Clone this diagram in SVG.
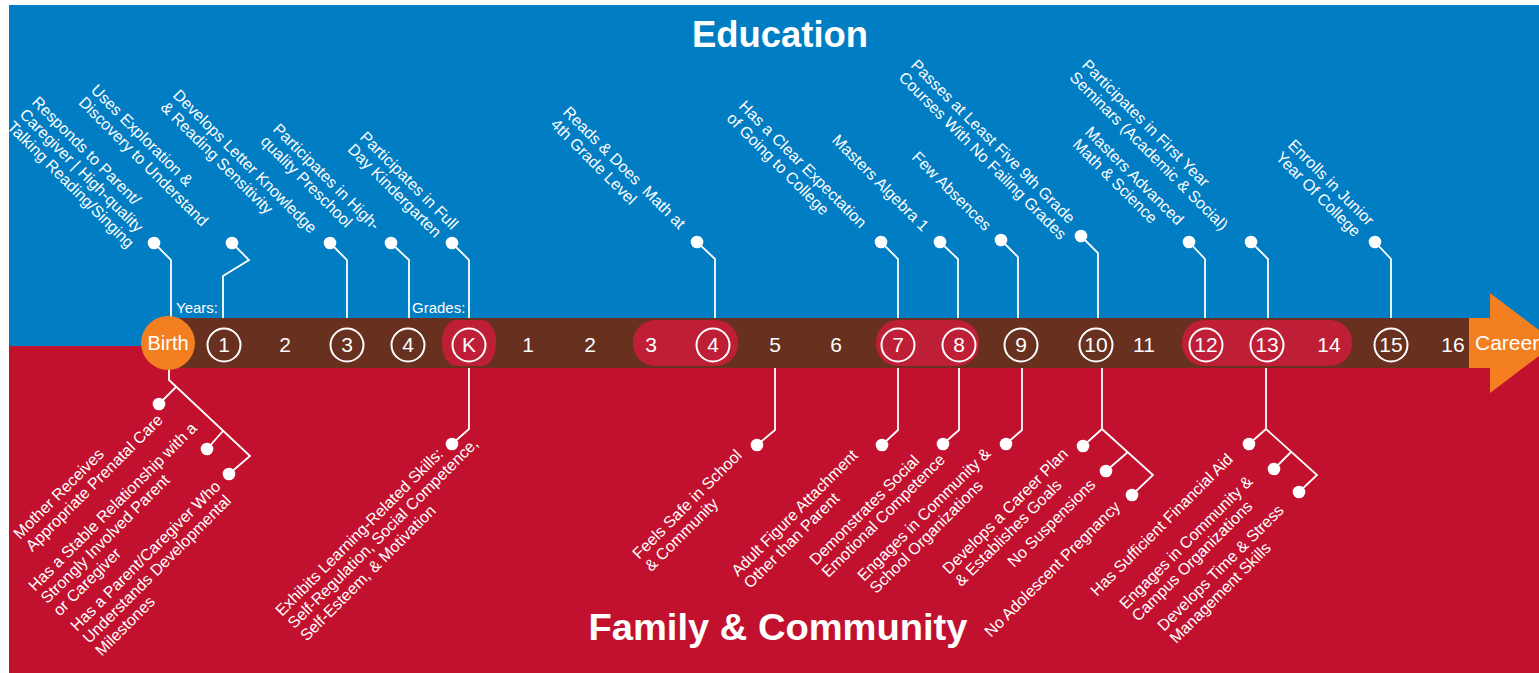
<svg xmlns="http://www.w3.org/2000/svg" width="1539" height="673" viewBox="0 0 1539 673">
<style>
.lbl{font-family:"Liberation Sans",Arial,sans-serif;font-size:16px;fill:#fff;}
.num{font-family:"Liberation Sans",Arial,sans-serif;font-size:21px;fill:#fff;text-anchor:middle;}
.small{font-family:"Liberation Sans",Arial,sans-serif;font-size:15px;fill:#fff;}
.title{font-family:"Liberation Sans",Arial,sans-serif;font-size:37px;font-weight:bold;fill:#fff;text-anchor:middle;}
.ring{fill:none;stroke:#fff;stroke-width:2;}
.pill{fill:#BE1E36;}
.conn{fill:none;stroke:#fff;stroke-width:1.8;stroke-linejoin:miter;}
.dot{fill:#fff;}
</style>
<rect x="0" y="0" width="1539" height="673" fill="#fff"/>
<rect id="education-bg" x="9" y="5" width="1530" height="341" fill="#017DC3"/>
<rect id="family-bg" x="9" y="346" width="1530" height="327" fill="#C1112F"/>
<text class="title" x="780" y="47" textLength="176" lengthAdjust="spacingAndGlyphs">Education</text>
<text class="title" x="778" y="640" textLength="379" lengthAdjust="spacingAndGlyphs">Family &amp; Community</text>

<g id="timeline">
<rect x="167" y="318" width="1304" height="50" fill="#67301F"/>
<rect class="pill" x="442" y="320" width="54" height="46" rx="14" ry="22"/>
<rect class="pill" x="633" y="320" width="105" height="46" rx="22" ry="22"/>
<rect class="pill" x="876" y="320" width="103" height="46" rx="22" ry="22"/>
<rect class="pill" x="1182" y="320" width="170" height="46" rx="22" ry="22"/>
<polygon id="career-arrow" points="1469,318 1490,318 1490,293 1556,343 1490,393 1490,368 1469,368" fill="#F47F20"/>
<text class="num" x="1475" y="350" style="text-anchor:start;font-size:21px">Career</text>
</g>

<g id="connectors">
<path class="conn" d="M154 243 L171 260 V318"/>
<path class="conn" d="M232 243 L249 260 L223 276 V318"/>
<path class="conn" d="M330 243 L347 260 V318"/>
<path class="conn" d="M391 243 L409 260 V318"/>
<path class="conn" d="M452 243 L469 260 V318"/>
<path class="conn" d="M697 242 L715 259 V318"/>
<path class="conn" d="M881 242 L898 259 V318"/>
<path class="conn" d="M940 242 L958 259 V318"/>
<path class="conn" d="M1001 240 L1018 257 V318"/>
<path class="conn" d="M1081 236 L1098 253 V318"/>
<path class="conn" d="M1189 242 L1205 259 V318"/>
<path class="conn" d="M1251 242 L1268 259 V318"/>
<path class="conn" d="M1375 242 L1391 259 V318"/>
<path class="conn" d="M169 368 V380 L250 456 L229 474 M176 387 L159 404 M223 431 L207 449"/>
<path class="conn" d="M469 368 V429 L452 444"/>
<path class="conn" d="M775 368 V430 L757 445"/>
<path class="conn" d="M898 368 V430 L882 445"/>
<path class="conn" d="M959 368 V430 L943 444"/>
<path class="conn" d="M1022 368 V430 L1006 444"/>
<path class="conn" d="M1102 368 V429 L1083 446 M1102 429 L1153 475 L1132 495 M1128 452 L1106 471"/>
<path class="conn" d="M1266 368 V429 L1249 444 M1266 429 L1317 475 L1299 492 M1291 452 L1274 469"/>
<g class="dot">
<circle cx="154" cy="243" r="6.3"/><circle cx="232" cy="243" r="6.3"/><circle cx="330" cy="243" r="6.3"/>
<circle cx="391" cy="243" r="6.3"/><circle cx="452" cy="243" r="6.3"/><circle cx="697" cy="242" r="6.3"/>
<circle cx="881" cy="242" r="6.3"/><circle cx="940" cy="242" r="6.3"/><circle cx="1001" cy="240" r="6.3"/>
<circle cx="1081" cy="236" r="6.3"/><circle cx="1189" cy="242" r="6.3"/><circle cx="1251" cy="242" r="6.3"/>
<circle cx="1375" cy="242" r="6.3"/>
<circle cx="159" cy="404" r="6.3"/><circle cx="207" cy="449" r="6.3"/><circle cx="229" cy="474" r="6.3"/>
<circle cx="452" cy="444" r="6.3"/><circle cx="757" cy="445" r="6.3"/><circle cx="882" cy="445" r="6.3"/>
<circle cx="943" cy="444" r="6.3"/><circle cx="1006" cy="444" r="6.3"/>
<circle cx="1083" cy="446" r="6.3"/><circle cx="1106" cy="471" r="6.3"/><circle cx="1132" cy="495" r="6.3"/>
<circle cx="1249" cy="444" r="6.3"/><circle cx="1274" cy="469" r="6.3"/><circle cx="1299" cy="492" r="6.3"/>
</g>
</g>

<g id="ticks">
<g id="birth"><circle cx="168" cy="343" r="27" fill="#F47F20"/><text class="num" x="168" y="350" style="font-size:20px">Birth</text></g>
<text class="small" x="176" y="313">Years:</text>
<text class="small" x="412" y="313">Grades:</text>
<g id="y1"><circle class="ring" cx="224" cy="345" r="16.5"/><text class="num" x="224" y="352">1</text></g>
<g id="y2"><text class="num" x="285" y="352">2</text></g>
<g id="y3"><circle class="ring" cx="347" cy="345" r="16.5"/><text class="num" x="347" y="352">3</text></g>
<g id="y4"><circle class="ring" cx="408" cy="345" r="16.5"/><text class="num" x="408" y="352">4</text></g>
<g id="gK"><circle class="ring" cx="469" cy="345" r="16.5"/><text class="num" x="469" y="352">K</text></g>
<g id="g1"><text class="num" x="528" y="352">1</text></g>
<g id="g2"><text class="num" x="590" y="352">2</text></g>
<g id="g3"><text class="num" x="651" y="352">3</text></g>
<g id="g4"><circle class="ring" cx="713" cy="345" r="16.5"/><text class="num" x="713" y="352">4</text></g>
<g id="g5"><text class="num" x="775" y="352">5</text></g>
<g id="g6"><text class="num" x="836" y="352">6</text></g>
<g id="g7"><circle class="ring" cx="898" cy="345" r="16.5"/><text class="num" x="898" y="352">7</text></g>
<g id="g8"><circle class="ring" cx="959" cy="345" r="16.5"/><text class="num" x="959" y="352">8</text></g>
<g id="g9"><circle class="ring" cx="1021" cy="345" r="16.5"/><text class="num" x="1021" y="352">9</text></g>
<g id="g10"><circle class="ring" cx="1096" cy="345" r="16.5"/><text class="num" x="1096" y="352">10</text></g>
<g id="g11"><text class="num" x="1144" y="352">11</text></g>
<g id="g12"><circle class="ring" cx="1206" cy="345" r="16.5"/><text class="num" x="1206" y="352">12</text></g>
<g id="g13"><circle class="ring" cx="1267" cy="345" r="16.5"/><text class="num" x="1267" y="352">13</text></g>
<g id="g14"><text class="num" x="1329" y="352">14</text></g>
<g id="g15"><circle class="ring" cx="1391" cy="345" r="16.5"/><text class="num" x="1391" y="352">15</text></g>
<g id="g16"><text class="num" x="1453" y="352">16</text></g>
</g>

<g id="education-labels">
<g id="e-responds"><text class="lbl" transform="translate(31,103) rotate(45)"><tspan x="0">Responds to Parent/</tspan><tspan x="0" dy="17.5">Caregiver | High-quality</tspan><tspan x="0" dy="17.5">Talking Reading/Singing</tspan></text></g>
<g id="e-uses"><text class="lbl" transform="translate(90,91) rotate(45)"><tspan x="0">Uses Exploration &amp;</tspan><tspan x="0" dy="17.5">Discovery to Understand</tspan></text></g>
<g id="e-letter"><text class="lbl" transform="translate(172,96) rotate(45)"><tspan x="0">Develops Letter Knowledge</tspan><tspan x="0" dy="17.5">&amp; Reading Sensitivity</tspan></text></g>
<g id="e-preschool"><text class="lbl" transform="translate(272,130) rotate(45)"><tspan x="0">Participates in High-</tspan><tspan x="0" dy="17.5">quality Preschool</tspan></text></g>
<g id="e-kinder"><text class="lbl" transform="translate(359,138) rotate(45)"><tspan x="0">Participates in Full</tspan><tspan x="0" dy="17.5">Day Kindergarten</tspan></text></g>
<g id="e-reads"><text class="lbl" transform="translate(562,113) rotate(45)"><tspan x="0">Reads &amp; Does&#160; Math at</tspan><tspan x="0" dy="17.5">4th Grade Level</tspan></text></g>
<g id="e-expect"><text class="lbl" transform="translate(738,107) rotate(45)"><tspan x="0">Has a Clear Expectation</tspan><tspan x="0" dy="17.5">of Going to College</tspan></text></g>
<g id="e-algebra"><text class="lbl" transform="translate(831,141) rotate(45)">Masters Algebra 1</text></g>
<g id="e-absences"><text class="lbl" transform="translate(911,158) rotate(45)">Few Absences</text></g>
<g id="e-passes"><text class="lbl" transform="translate(910,66) rotate(45)"><tspan x="0">Passes at Least Five 9th Grade</tspan><tspan x="0" dy="17.5">Courses With No Failing Grades</tspan></text></g>
<g id="e-advanced"><text class="lbl" transform="translate(1084,133) rotate(45)"><tspan x="0">Masters Advanced</tspan><tspan x="0" dy="17.5">Math &amp; Science</tspan></text></g>
<g id="e-seminars"><text class="lbl" transform="translate(1081,66) rotate(45)"><tspan x="0">Participates in First Year</tspan><tspan x="0" dy="17.5">Seminars (Academic &amp; Social)</tspan></text></g>
<g id="e-junior"><text class="lbl" transform="translate(1287,146) rotate(45)"><tspan x="0">Enrolls in Junior</tspan><tspan x="0" dy="17.5">Year Of College</tspan></text></g>
</g>

<g id="family-labels">
<g id="f-prenatal"><text class="lbl" transform="translate(20,540) rotate(-45)"><tspan x="0">Mother Receives</tspan><tspan x="0" dy="17.5">Appropriate Prenatal Care</tspan></text></g>
<g id="f-stable"><text class="lbl" transform="translate(35,592) rotate(-45)"><tspan x="0">Has a Stable Relationship with a</tspan><tspan x="0" dy="17.5">Strongly Involved Parent</tspan><tspan x="0" dy="17.5">or Caregiver</tspan></text></g>
<g id="f-milestones"><text class="lbl" transform="translate(77,632) rotate(-45)"><tspan x="0">Has a Parent/Caregiver Who</tspan><tspan x="0" dy="17.5">Understands Developmental</tspan><tspan x="0" dy="17.5">Milestones</tspan></text></g>
<g id="f-skills"><text class="lbl" transform="translate(282,617) rotate(-45)"><tspan x="0">Exhibits Learning-Related Skills:</tspan><tspan x="0" dy="17.5">Self-Regulation, Social Competence,</tspan><tspan x="0" dy="17.5">Self-Esteem, &amp; Motivation</tspan></text></g>
<g id="f-safe"><text class="lbl" transform="translate(639,560) rotate(-45)"><tspan x="0">Feels Safe in School</tspan><tspan x="0" dy="17.5">&amp; Community</tspan></text></g>
<g id="f-adult"><text class="lbl" transform="translate(738,577) rotate(-45)"><tspan x="0">Adult Figure Attachment</tspan><tspan x="0" dy="17.5">Other than Parent</tspan></text></g>
<g id="f-social"><text class="lbl" transform="translate(816,566) rotate(-45)"><tspan x="0">Demonstrates Social</tspan><tspan x="0" dy="17.5">Emotional Competence</tspan></text></g>
<g id="f-engages1"><text class="lbl" transform="translate(864,582) rotate(-45)"><tspan x="0">Engages in Community &amp;</tspan><tspan x="0" dy="17.5">School Organizations</tspan></text></g>
<g id="f-career"><text class="lbl" transform="translate(949,575) rotate(-45)"><tspan x="0">Develops a Career Plan</tspan><tspan x="0" dy="17.5">&amp; Establishes Goals</tspan></text></g>
<g id="f-suspensions"><text class="lbl" transform="translate(1014,568) rotate(-45)">No Suspensions</text></g>
<g id="f-pregnancy"><text class="lbl" transform="translate(991,638) rotate(-45)">No Adolescent Pregnancy</text></g>
<g id="f-aid"><text class="lbl" transform="translate(1097,597) rotate(-45)">Has Sufficient Financial Aid</text></g>
<g id="f-engages2"><text class="lbl" transform="translate(1126,610) rotate(-45)"><tspan x="0">Engages in Community &amp;</tspan><tspan x="0" dy="17.5">Campus Organizations</tspan></text></g>
<g id="f-stress"><text class="lbl" transform="translate(1164,632) rotate(-45)"><tspan x="0">Develops Time &amp; Stress</tspan><tspan x="0" dy="17.5">Management Skills</tspan></text></g>
</g>
</svg>
